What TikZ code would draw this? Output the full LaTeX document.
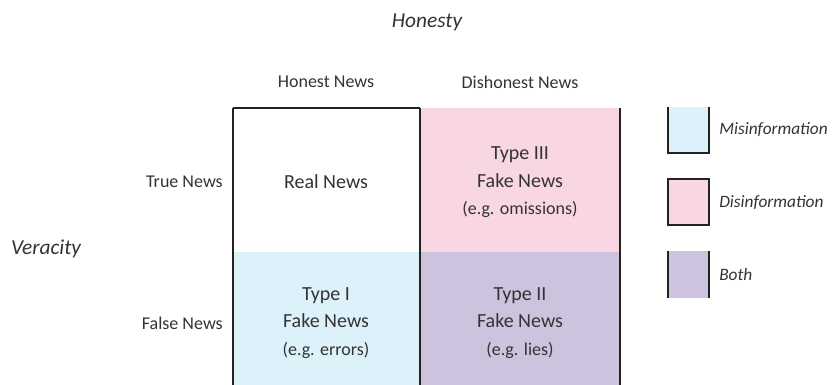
\documentclass[tikz,border=0pt]{standalone}
\usepackage{fontspec}
\setmainfont{Carlito}
\definecolor{misblue}{HTML}{DDF1FA}
\definecolor{dispink}{HTML}{F9D6E4}
\definecolor{bothpurple}{HTML}{CEC3DE}
\definecolor{txt}{HTML}{333333}
\definecolor{ln}{HTML}{222222}
\begin{document}
\begin{tikzpicture}[x=0.75pt,y=-0.75pt,
  lbl/.style={text=txt,font=\fontsize{13.5}{16}\selectfont,inner sep=0pt},
  celltxt/.style={text=txt,font=\fontsize{15}{19}\selectfont,inner sep=0pt,align=center},
  smalltxt/.style={text=txt,font=\fontsize{13.5}{16}\selectfont,inner sep=0pt},
  axis/.style={text=txt,font=\fontsize{16}{18}\selectfont\itshape,inner sep=0pt},
  legtxt/.style={text=txt,font=\fontsize{13}{15}\selectfont\itshape,inner sep=0pt,anchor=west},
  grid/.style={draw=ln,line width=1pt}]
\useasboundingbox (0,0) rectangle (833,385);
% fills
\fill[dispink] (420,108) rectangle (620,252);
\fill[misblue] (233,252) rectangle (420,385);
\fill[bothpurple] (420,252) rectangle (620,385);
% grid lines
\draw[grid] (233,108) -- (420,108);
\draw[grid] (233,108) -- (233,385);
\draw[grid] (420,108) -- (420,385);
\draw[grid] (620,108) -- (620,385);
% axis titles
\node[axis] (honesty) at (427,22) {Honesty};
\node[axis] (veracity) at (46,249) {Veracity};
% column / row labels
\node[lbl] (hn) at (326,82) {Honest News};
\node[lbl] (dn) at (520,82) {Dishonest News};
\node[lbl,anchor=east] (tn) at (223,182) {True News};
\node[lbl,anchor=east] (fn) at (223,323) {False News};
% cell texts
\node[celltxt] (real) at (326,182) {Real News};
\node[celltxt] (t3a) at (520,155) {Type III};
\node[celltxt] (t3b) at (520,181) {Fake News};
\node[smalltxt] (t3c) at (520,209) {(e.g. omissions)};
\node[celltxt] (t1a) at (326,296) {Type I};
\node[celltxt] (t1b) at (326,321) {Fake News};
\node[smalltxt] (t1c) at (326,350) {(e.g. errors)};
\node[celltxt] (t2a) at (520,296) {Type II};
\node[celltxt] (t2b) at (520,321) {Fake News};
\node[smalltxt] (t2c) at (520,350) {(e.g. lies)};
% legend
\fill[misblue] (668,107) rectangle (709,153);
\draw[grid] (668,107) -- (668,153) -- (709,153) -- (709,107);
\fill[dispink] (668,179) rectangle (709,225);
\draw[grid] (668,179) rectangle (709,225);
\fill[bothpurple] (668,251) rectangle (709,298);
\draw[grid] (668,251) -- (668,298);
\draw[grid] (709,251) -- (709,298);
\node[legtxt] (lm) at (719,130) {Misinformation};
\node[legtxt] (ld) at (719,203) {Disinformation};
\node[legtxt] (lb) at (719,275) {Both};
\end{tikzpicture}
\end{document}
